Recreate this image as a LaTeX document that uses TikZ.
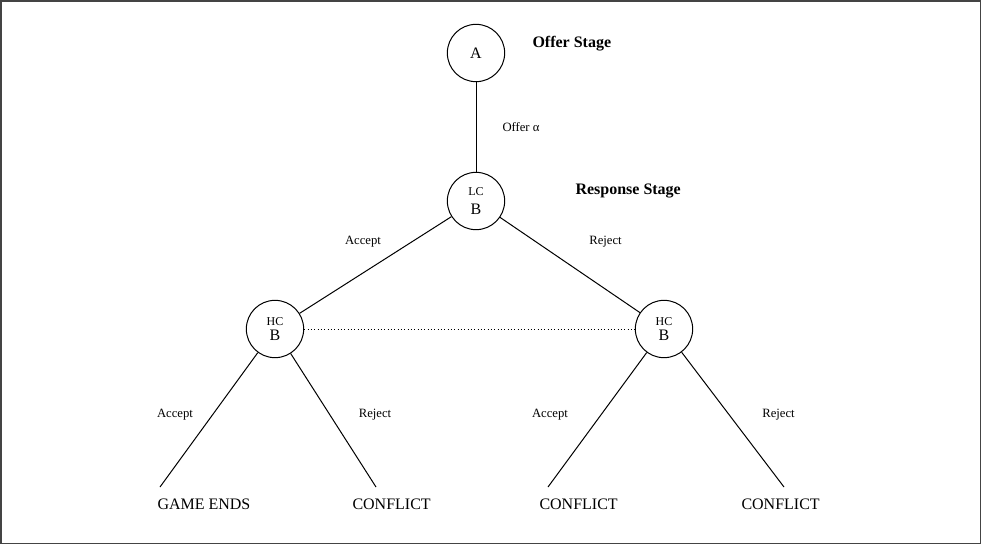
\documentclass[tikz,border=0pt]{standalone}
\usepackage{fontspec}
\setmainfont{Liberation Serif}
\definecolor{frameLine}{HTML}{444444}

\begin{document}
\begin{tikzpicture}[
    x=0.75pt, y=-0.75pt,
    line width=0.75pt,
    player/.style={circle, draw, minimum size=43pt, inner sep=0pt, align=center,
                   font=\fontsize{12}{13}\selectfont},
    stage/.style={font=\fontsize{12}{14}\selectfont\bfseries, anchor=base west, inner sep=0pt},
    choice/.style={font=\fontsize{9.5}{11}\selectfont, inner sep=0pt},
    outcome/.style={font=\fontsize{12}{14}\selectfont, anchor=base west, inner sep=0pt},
    info/.style={dotted, line width=0.5pt},
  ]

  % Page and frame
  \useasboundingbox (0,0) rectangle (982,547);
  \draw[frameLine, line width=1.3pt] (1,1) rectangle (980.5,543.5);

  % Column x-positions
  \def\xA{476}\def\xL{275}\def\xR{664}

  % OFFER STAGE
  \node[player] (offer) at (\xA, 53) {A};
  \node[stage] (offerstage) at (532, 47.5) {Offer Stage};

  % RESPONSE STAGE
  \node[player] (lc) at (\xA, 201) {{\fontsize{9}{9}\selectfont LC}\\[1pt]B};
  \node[stage] (respstage) at (575, 194) {Response Stage};
  \node[player] (hcL) at (\xL, 329) {{\fontsize{9}{9}\selectfont HC}\\[-2pt]B};
  \node[player] (hcR) at (\xR, 329) {{\fontsize{9}{9}\selectfont HC}\\[-2pt]B};

  % OUTCOMES
  \coordinate (endLL) at (160, 487);
  \coordinate (endLR) at (376, 487);
  \coordinate (endRL) at (548, 487);
  \coordinate (endRR) at (784, 487);
  \node[outcome] (gameends) at (157, 509) {GAME ENDS};
  \node[outcome] (conflictA) at (352, 509) {CONFLICT};
  \node[outcome] (conflictB) at (539, 509) {CONFLICT};
  \node[outcome] (conflictC) at (741, 509) {CONFLICT};

  % Moves
  \draw (offer) -- (lc);
  \draw (lc) -- (hcL);
  \draw (lc) -- (hcR);
  \draw[info] (hcL) -- (hcR);
  \draw (hcL) -- (endLL);
  \draw (hcL) -- (endLR);
  \draw (hcR) -- (endRL);
  \draw (hcR) -- (endRR);

  % Move labels
  \node[choice] (lbloffer) at (521, 127) {Offer α};
  \node[choice] (lblacc) at (363, 242) {Accept};
  \node[choice] (lblrej) at (605.5, 242) {Reject};
  \node[choice] (lblaccL) at (175, 415) {Accept};
  \node[choice] (lblrejL) at (375, 415) {Reject};
  \node[choice] (lblaccR) at (550, 415) {Accept};
  \node[choice] (lblrejR) at (778.5, 415) {Reject};

\end{tikzpicture}
\end{document}
